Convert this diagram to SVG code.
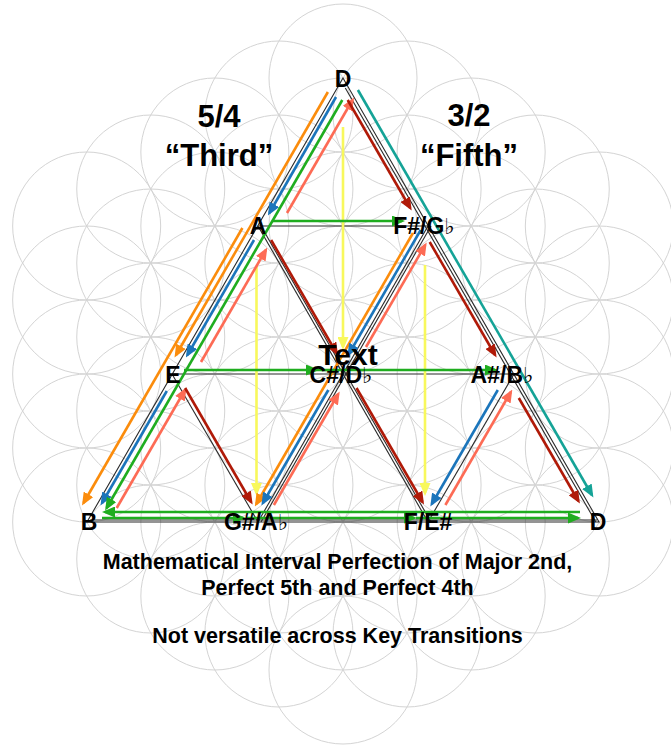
<svg xmlns="http://www.w3.org/2000/svg" width="671" height="746" viewBox="0 0 671 746">
<style>
.fl{fill:none;stroke:#d4d4d4;stroke-width:1}
.bk{fill:none;stroke:#2a2a2a;stroke-width:1.1}
.c{fill:none;stroke-width:2.6}
.or{stroke:#fb8c0c}.bl{stroke:#1b75bb}.sa{stroke:#fd6b55}.gr{stroke:#1fad1f}.rd{stroke:#b01a08}.tl{stroke:#15a397}.ye{stroke:#f8f85c}
.lab{font-family:"Liberation Sans",Arial,sans-serif;font-weight:bold;fill:#000;text-anchor:middle}
.n{font-size:23px}
.fl2{font-family:"DejaVu Sans",sans-serif;font-weight:normal;font-size:22px}
</style>
<defs>
<marker id="mor" markerUnits="userSpaceOnUse" markerWidth="13" markerHeight="11" refX="10" refY="5.5" orient="auto"><path d="M0,0 L13,5.5 L0,11 Z" fill="#fb8c0c"/></marker>
<marker id="mbl" markerUnits="userSpaceOnUse" markerWidth="13" markerHeight="11" refX="10" refY="5.5" orient="auto"><path d="M0,0 L13,5.5 L0,11 Z" fill="#1b75bb"/></marker>
<marker id="msa" markerUnits="userSpaceOnUse" markerWidth="13" markerHeight="11" refX="10" refY="5.5" orient="auto"><path d="M0,0 L13,5.5 L0,11 Z" fill="#fd6b55"/></marker>
<marker id="mgr" markerUnits="userSpaceOnUse" markerWidth="13" markerHeight="11" refX="10" refY="5.5" orient="auto"><path d="M0,0 L13,5.5 L0,11 Z" fill="#1fad1f"/></marker>
<marker id="mrd" markerUnits="userSpaceOnUse" markerWidth="13" markerHeight="11" refX="10" refY="5.5" orient="auto"><path d="M0,0 L13,5.5 L0,11 Z" fill="#b01a08"/></marker>
<marker id="mtl" markerUnits="userSpaceOnUse" markerWidth="13" markerHeight="11" refX="10" refY="5.5" orient="auto"><path d="M0,0 L13,5.5 L0,11 Z" fill="#15a397"/></marker>
<marker id="mye" markerUnits="userSpaceOnUse" markerWidth="13" markerHeight="11" refX="10" refY="5.5" orient="auto"><path d="M0,0 L13,5.5 L0,11 Z" fill="#f8f85c"/></marker>
</defs>
<rect width="671" height="746" fill="#fff"/>
<g id="flower" class="fl">
<circle cx="86.66" cy="226" r="74"/><circle cx="86.66" cy="300" r="74"/><circle cx="86.66" cy="374" r="74"/><circle cx="86.66" cy="448" r="74"/><circle cx="86.66" cy="522" r="74"/>
<circle cx="150.74" cy="189" r="74"/><circle cx="150.74" cy="263" r="74"/><circle cx="150.74" cy="337" r="74"/><circle cx="150.74" cy="411" r="74"/><circle cx="150.74" cy="485" r="74"/><circle cx="150.74" cy="559" r="74"/>
<circle cx="214.83" cy="152" r="74"/><circle cx="214.83" cy="226" r="74"/><circle cx="214.83" cy="300" r="74"/><circle cx="214.83" cy="374" r="74"/><circle cx="214.83" cy="448" r="74"/><circle cx="214.83" cy="522" r="74"/><circle cx="214.83" cy="596" r="74"/>
<circle cx="278.91" cy="115" r="74"/><circle cx="278.91" cy="189" r="74"/><circle cx="278.91" cy="263" r="74"/><circle cx="278.91" cy="337" r="74"/><circle cx="278.91" cy="411" r="74"/><circle cx="278.91" cy="485" r="74"/><circle cx="278.91" cy="559" r="74"/><circle cx="278.91" cy="633" r="74"/>
<circle cx="343" cy="78" r="74"/><circle cx="343" cy="152" r="74"/><circle cx="343" cy="226" r="74"/><circle cx="343" cy="300" r="74"/><circle cx="343" cy="374" r="74"/><circle cx="343" cy="448" r="74"/><circle cx="343" cy="522" r="74"/><circle cx="343" cy="596" r="74"/><circle cx="343" cy="670" r="74"/>
<circle cx="407.09" cy="115" r="74"/><circle cx="407.09" cy="189" r="74"/><circle cx="407.09" cy="263" r="74"/><circle cx="407.09" cy="337" r="74"/><circle cx="407.09" cy="411" r="74"/><circle cx="407.09" cy="485" r="74"/><circle cx="407.09" cy="559" r="74"/><circle cx="407.09" cy="633" r="74"/>
<circle cx="471.17" cy="152" r="74"/><circle cx="471.17" cy="226" r="74"/><circle cx="471.17" cy="300" r="74"/><circle cx="471.17" cy="374" r="74"/><circle cx="471.17" cy="448" r="74"/><circle cx="471.17" cy="522" r="74"/><circle cx="471.17" cy="596" r="74"/>
<circle cx="535.26" cy="189" r="74"/><circle cx="535.26" cy="263" r="74"/><circle cx="535.26" cy="337" r="74"/><circle cx="535.26" cy="411" r="74"/><circle cx="535.26" cy="485" r="74"/><circle cx="535.26" cy="559" r="74"/>
<circle cx="599.34" cy="226" r="74"/><circle cx="599.34" cy="300" r="74"/><circle cx="599.34" cy="374" r="74"/><circle cx="599.34" cy="448" r="74"/><circle cx="599.34" cy="522" r="74"/>
</g>
<g id="connectors">
<g id="lattice" class="bk">
<path d="M343,78 L87,522 L599,522 Z"/>
<path d="M345.3,88 L595.8,522"/>
<path d="M258,226 L428,522"/><path d="M261,226 L431,522"/>
<path d="M172,374 L258,522"/>
<path d="M428,226 L258,522"/><path d="M431,226 L261,522"/>
<path d="M514,374 L428,522"/>
<path d="M258,226 L428,226"/>
<path d="M172,374 L514,374"/>
<path d="M90,520 L597,520"/>
</g>
<g id="yellow" class="c ye">
<path d="M343,127 L343,347" marker-end="url(#mye)"/>
<path d="M256.5,266 L256.5,493" marker-end="url(#mye)"/>
<path d="M425,265 L425,493" marker-end="url(#mye)"/>
</g>
<g id="orange" class="c or">
<path d="M327.9,92 L176,355" marker-end="url(#mor)"/>
<path d="M242.4,228 L83.5,503" marker-end="url(#mor)"/>
<path d="M413,233 L256.3,504" marker-end="url(#mor)"/>
</g>
<g id="blue" class="c bl">
<path d="M336,97 L269.4,213" marker-end="url(#mbl)"/>
<path d="M254,240 L187.4,355" marker-end="url(#mbl)"/>
<path d="M166.8,391 L102,503" marker-end="url(#mbl)"/>
<path d="M420.7,230 L348.9,354" marker-end="url(#mbl)"/>
<path d="M328.3,390 L262.9,503" marker-end="url(#mbl)"/>
<path d="M497.8,390 L431.8,504" marker-end="url(#mbl)"/>
</g>
<g id="salmon" class="c sa">
<path d="M287,213 L352.5,100" marker-end="url(#msa)"/>
<path d="M201,362 L265.8,250" marker-end="url(#msa)"/>
<path d="M116.7,508 L185,390" marker-end="url(#msa)"/>
<path d="M366,347 L425.2,245" marker-end="url(#msa)"/>
<path d="M273.9,505 L338.2,394" marker-end="url(#msa)"/>
<path d="M445.4,505 L510.8,392" marker-end="url(#msa)"/>
</g>
<g id="red" class="c rd">
<path d="M347.7,100 L410.2,208" marker-end="url(#mrd)"/>
<path d="M429.7,242 L495.1,355" marker-end="url(#mrd)"/>
<path d="M518.8,398 L578.4,501" marker-end="url(#mrd)"/>
<path d="M271.1,240 L336.5,353" marker-end="url(#mrd)"/>
<path d="M356.5,388 L422.5,502" marker-end="url(#mrd)"/>
<path d="M185.1,388 L251.1,502" marker-end="url(#mrd)"/>
</g>
<g id="teal" class="c tl">
<path d="M357.9,90 L591.9,495" marker-end="url(#mtl)"/>
</g>
<g id="green" class="c gr">
<path d="M342.3,100 L106.6,508" marker-end="url(#mgr)"/>
<path d="M273,221 L402,221" marker-end="url(#mgr)"/>
<path d="M184,370 L316,370" marker-end="url(#mgr)"/>
<path d="M316,370 L495,370" marker-end="url(#mgr)"/>
<path d="M580,512 L105,512" marker-end="url(#mgr)"/>
<path d="M102,518 L243,518" marker-end="url(#mgr)"/>
<path d="M247,518 L414,518" marker-end="url(#mgr)"/>
<path d="M416,518 L578,518" marker-end="url(#mgr)"/>
</g>
</g>
<g id="node-D-top"><text class="lab n" x="343" y="87">D</text></g>
<g id="node-A"><text class="lab n" x="258" y="234">A</text></g>
<g id="node-FsGb"><text class="lab n" x="424" y="234">F#/G<tspan class="fl2">♭</tspan></text></g>
<g id="node-E"><text class="lab n" x="173" y="383">E</text></g>
<g id="node-CsDb"><text class="lab n" x="341" y="383">C#/D<tspan class="fl2">♭</tspan></text></g>
<g id="node-AsBb"><text class="lab n" x="502" y="383">A#/B<tspan class="fl2">♭</tspan></text></g>
<g id="node-B"><text class="lab n" x="89" y="530">B</text></g>
<g id="node-GsAb"><text class="lab n" x="256" y="530">G#/A<tspan class="fl2">♭</tspan></text></g>
<g id="node-FEs"><text class="lab n" x="428" y="530">F/E#</text></g>
<g id="node-D-right"><text class="lab n" x="598" y="530">D</text></g>
<g id="label-text"><text class="lab" x="348" y="365" font-size="30">Text</text></g>
<g id="label-third"><text class="lab" x="219" y="127" font-size="31">5/4</text><text class="lab" x="219" y="166" font-size="31">“Third”</text></g>
<g id="label-fifth"><text class="lab" x="469" y="126" font-size="31">3/2</text><text class="lab" x="469" y="166" font-size="31">“Fifth”</text></g>
<g id="caption">
<text class="lab" x="337.5" y="569" font-size="21.5">Mathematical Interval Perfection of Major 2nd,</text>
<text class="lab" x="337.5" y="595" font-size="21.5">Perfect 5th and Perfect 4th</text>
<text class="lab" x="337.5" y="643" font-size="21.5">Not versatile across Key Transitions</text>
</g>
</svg>
